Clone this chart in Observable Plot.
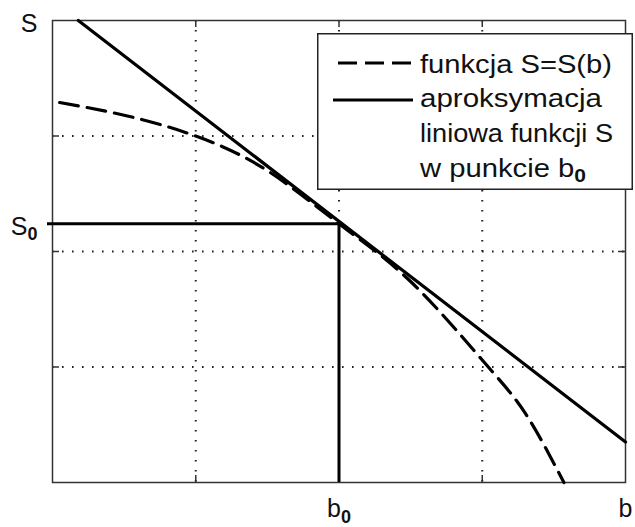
<!DOCTYPE html>
<html>
<head>
<meta charset="utf-8">
<script src="https://cdn.jsdelivr.net/npm/d3@7"></script>
<script src="https://cdn.jsdelivr.net/npm/@observablehq/plot@0.6"></script>
<style>
  html, body { margin: 0; padding: 0; background: #fff; }
  #wrap { position: relative; width: 635px; height: 527px; overflow: hidden; }
  #legend { position: absolute; left: 317px; top: 33px; }
</style>
</head>
<body>
<div id="wrap"></div>
<script>
// ---- data (chart units: b on x from 0 to 4, S on y from 0 to 4) ----
const b0 = 2;
const S0 = 2.24;
// curve S = S(b) (dashed)
const curveB = [0.05, 0.50, 1.00, 1.50, 2.00, 2.50, 3.00, 3.30, 3.57];
const curveS = [3.29, 3.18, 3.00, 2.70, 2.24, 1.74, 1.06, 0.60, 0.00];
// linear approximation (solid)
const lineB = [0.18, 4.0];
const lineS = [4.0, 0.35];
// grid / tick positions
const gridVals = [1, 2, 3];
const xTickVals = [b0, 4];
const xTickLabels = ["b_0", "b"];
const yTickVals = [4, S0];
const yTickLabels = ["S", "S_0"];
// legend
const legendLabels = ["funkcja S=S(b)", ["aproksymacja", "liniowa funkcji S", "w punkcie b_0"]];

const curve = curveB.map((b, i) => ({b, s: curveS[i]}));
const tangent = lineB.map((b, i) => ({b, s: lineS[i]}));

const font = "Liberation Sans, Arial, sans-serif";
const W = 635, H = 527, mL = 52, mR = 10, mT = 20, mB = 45;
const frameH = H - mT - mB, frameW = W - mL - mR;
const tickLen = 7;

const chart = Plot.plot({
  width: W, height: H,
  marginLeft: mL, marginRight: mR, marginTop: mT, marginBottom: mB,
  style: {fontFamily: font, background: "#fff", color: "#111"},
  x: {domain: [0, 4], label: null},
  y: {domain: [0, 4], label: null},
  marks: [
    Plot.gridX(gridVals, {stroke: "#222", strokeOpacity: 1, strokeWidth: 2, strokeDasharray: "1.6,8.4"}),
    Plot.gridY(gridVals, {stroke: "#222", strokeOpacity: 1, strokeWidth: 2, strokeDasharray: "1.6,8.4"}),
    // inner ticks (MATLAB style)
    Plot.ruleX(gridVals, {stroke: "#333", strokeWidth: 1.5, insetTop: frameH - tickLen}),
    Plot.ruleX(gridVals, {stroke: "#333", strokeWidth: 1.5, insetBottom: frameH - tickLen}),
    Plot.ruleY(gridVals, {stroke: "#333", strokeWidth: 1.5, insetRight: frameW - tickLen}),
    Plot.ruleY(gridVals, {stroke: "#333", strokeWidth: 1.5, insetLeft: frameW - tickLen}),
    Plot.frame({stroke: "#333", strokeWidth: 1.5}),
    // S0 and b0 guide lines
    Plot.ruleY([S0], {x1: 0, x2: b0, insetLeft: -5, stroke: "#000", strokeWidth: 3}),
    Plot.ruleX([b0], {y1: 0, y2: S0, stroke: "#000", strokeWidth: 3}),
    // curves
    Plot.line(tangent, {x: "b", y: "s", stroke: "#000", strokeWidth: 3.2}),
    Plot.line(curve, {x: "b", y: "s", stroke: "#000", strokeWidth: 3.2, strokeDasharray: "19,9", curve: "natural"}),
    // axes labels
    Plot.axisX(xTickVals, {tickSize: 0, tickPadding: 17, fontSize: 25, label: null, tickFormat: (d, i) => xTickLabels[i], fill: "#111"}),
    Plot.axisY(yTickVals, {tickSize: 0, tickPadding: 15, fontSize: 25, label: null, dy: 3, tickFormat: (d, i) => yTickLabels[i], fill: "#111"})
  ]
});

// subscripts
function subscriptify(sel) {
  sel.each(function() {
    const t = d3.select(this);
    const txt = t.text();
    if (txt.includes("_0")) {
      const base = txt.replace("_0", "");
      t.text(null);
      t.append("tspan").text(base);
      t.append("tspan").attr("dy", "0.3em").attr("font-size", "0.72em").attr("font-weight", "bold").text("0");
    }
  });
}
subscriptify(d3.select(chart).selectAll("text"));

const wrap = document.getElementById("wrap");
wrap.appendChild(chart);

// legend (drawn as svg overlay)
const lw = 316, lh = 157;
const leg = d3.create("svg").attr("id", "legend").attr("width", lw).attr("height", lh)
  .style("font-family", font).style("font-size", "25px");
leg.append("rect").attr("x", 0.75).attr("y", 0.75).attr("width", lw - 1.5).attr("height", lh - 1.5)
  .attr("fill", "#fff").attr("stroke", "#222").attr("stroke-width", 1.5);
leg.append("line").attr("x1", 21).attr("x2", 96).attr("y1", 30).attr("y2", 30)
  .attr("stroke", "#000").attr("stroke-width", 3.2).attr("stroke-dasharray", "19,8");
leg.append("line").attr("x1", 16).attr("x2", 96).attr("y1", 67).attr("y2", 67)
  .attr("stroke", "#000").attr("stroke-width", 3.2);
const lines = [legendLabels[0], ...legendLabels[1]];
const baselines = [40, 74, 109, 144];
const widths = [192, 182, 193, 166];
lines.forEach((s, i) => {
  leg.append("text").attr("x", 103).attr("y", baselines[i]).attr("fill", "#111")
    .attr("textLength", widths[i]).attr("lengthAdjust", "spacingAndGlyphs").text(s);
});
subscriptify(leg.selectAll("text"));
wrap.appendChild(leg.node());
</script>
</body>
</html>
